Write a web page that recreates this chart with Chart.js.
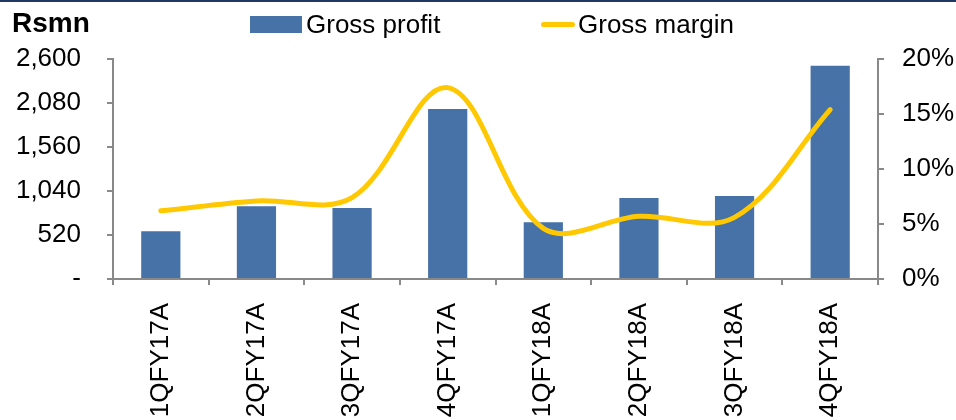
<!DOCTYPE html>
<html>
<head>
<meta charset="utf-8">
<title>Gross profit and gross margin</title>
<script src="https://cdn.jsdelivr.net/npm/chart.js@4/dist/chart.umd.min.js"></script>
<style>
  html, body { margin: 0; padding: 0; background: #fff; }
  #wrap { position: relative; width: 956px; height: 420px; overflow: hidden; }
  #topRule { position: absolute; left: 0; top: 0; width: 956px; height: 2px; background: #1f3864; }
  #unit { position: absolute; left: 12px; top: 7px; font: bold 28px "Liberation Sans", Arial, sans-serif; color: #000; }
  #legend { position: absolute; left: 0; top: 0; font: 26px "Liberation Sans", Arial, sans-serif; color: #000; }
  .lg-item { position: absolute; top: 9px; display: flex; align-items: center; height: 30px; white-space: nowrap; }
  .lg-box { width: 52px; height: 17px; margin-right: 4px; }
  .lg-line { width: 34px; height: 5px; border-radius: 3px; margin: 0 3px 0 2px; }
  canvas { position: absolute; left: 0; top: 0; }
</style>
</head>
<body>
<div id="wrap">
  <canvas id="chart" width="956" height="420"></canvas>
  <div id="topRule"></div>
  <div id="unit">Rsmn</div>
  <div id="legend"></div>
</div>
<script>
// Quarterly gross profit (Rs mn, bars) with gross margin (%, smoothed line)
const quarters = ["1QFY17A", "2QFY17A", "3QFY17A", "4QFY17A", "1QFY18A", "2QFY18A", "3QFY18A", "4QFY18A"];
const grossProfit = [565, 861, 838, 2008, 672, 956, 980, 2520];
const grossMargin = [6.2, 7.1, 7.4, 17.4, 4.6, 5.7, 5.6, 15.4];

const profitTicks = [0, 520, 1040, 1560, 2080, 2600];
const profitTickLabels = ["-", "520", "1,040", "1,560", "2,080", "2,600"];
const marginTicks = [0, 5, 10, 15, 20];
const marginTickLabels = ["0%", "5%", "10%", "15%", "20%"];

const AXIS_GREY = "#898989";
const FONT = "'Liberation Sans', Arial, sans-serif";

Chart.defaults.font.family = FONT;
Chart.defaults.color = "#000";

function fixedTicks(values){
  return (scale) => { scale.ticks = values.map(v => ({ value: v })); };
}

const chart = new Chart(document.getElementById("chart"), {
  data: {
    labels: quarters,
    datasets: [
      {
        type: "line",
        label: "Gross margin",
        data: grossMargin,
        yAxisID: "y1",
        borderColor: "#ffc800",
        backgroundColor: "#ffc800",
        borderWidth: 5,
        borderCapStyle: "round",
        tension: 0.35,
        pointRadius: 0,
        fill: false,
        order: 0
      },
      {
        type: "bar",
        label: "Gross profit",
        data: grossProfit,
        yAxisID: "y",
        backgroundColor: "#4672a7",
        categoryPercentage: 1,
        barPercentage: 0.41,
        order: 1
      }
    ]
  },
  options: {
    responsive: false,
    animation: false,
    layout: { padding: { top: 59, left: 0, right: 0, bottom: 0 } },
    plugins: { legend: { display: false }, tooltip: { enabled: false } },
    scales: {
      x: {
        offset: true,
        grid: { offset: true, drawOnChartArea: false, drawTicks: true, tickLength: 6, color: AXIS_GREY, lineWidth: 2 },
        border: { color: AXIS_GREY, width: 2 },
        ticks: { font: { size: 26 }, minRotation: 90, maxRotation: 90, padding: 18, autoSkip: false },
        afterFit: (s) => { s.height = 141; }
      },
      y: {
        position: "left",
        min: 0,
        max: 2600,
        afterBuildTicks: fixedTicks(profitTicks),
        grid: { drawOnChartArea: false, tickLength: 6, color: AXIS_GREY, lineWidth: 2 },
        border: { color: AXIS_GREY, width: 2 },
        ticks: {
          font: { size: 26 },
          padding: 26,
          callback: (v) => profitTickLabels[profitTicks.indexOf(v)]
        },
        afterFit: (s) => { s.width = 113; }
      },
      y1: {
        position: "right",
        min: 0,
        max: 20,
        afterBuildTicks: fixedTicks(marginTicks),
        grid: { drawOnChartArea: false, tickLength: 6, color: AXIS_GREY, lineWidth: 2 },
        border: { color: AXIS_GREY, width: 2 },
        ticks: {
          font: { size: 26 },
          padding: 18,
          callback: (v) => marginTickLabels[marginTicks.indexOf(v)]
        },
        afterFit: (s) => { s.width = 78; }
      }
    }
  }
});

// Legend built from the datasets: bar swatch first, then the line
const legendEl = document.getElementById("legend");
const legendLeft = { "Gross profit": 250, "Gross margin": 539 };
["Gross profit", "Gross margin"].forEach(name => {
  const ds = chart.data.datasets.find(d => d.label === name);
  const item = document.createElement("div");
  item.className = "lg-item";
  item.style.left = legendLeft[name] + "px";
  const mark = document.createElement("span");
  mark.className = ds.type === "line" ? "lg-line" : "lg-box";
  mark.style.background = ds.type === "line" ? ds.borderColor : ds.backgroundColor;
  const txt = document.createElement("span");
  txt.textContent = ds.label;
  item.appendChild(mark);
  item.appendChild(txt);
  legendEl.appendChild(item);
});
</script>
</body>
</html>
